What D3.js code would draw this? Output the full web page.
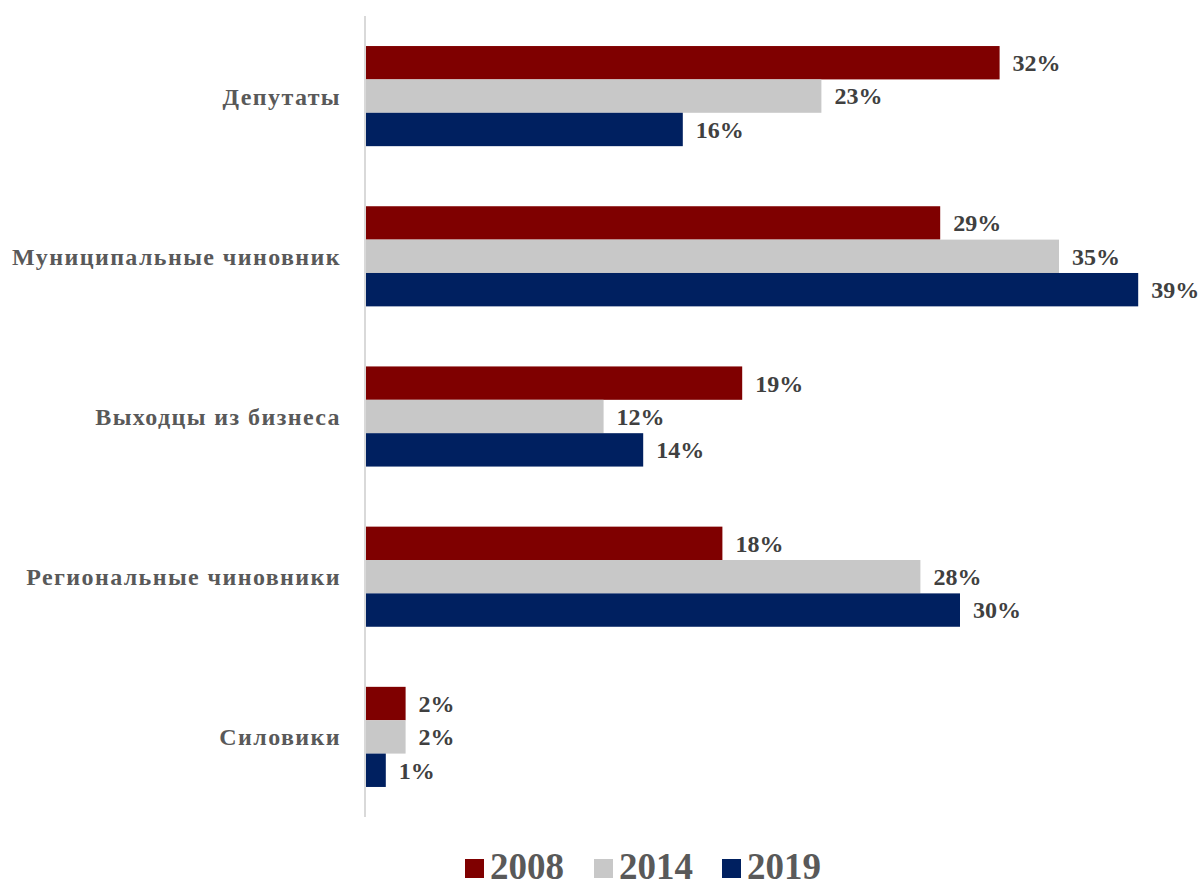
<!DOCTYPE html>
<html>
<head>
<meta charset="utf-8">
<script src="https://cdn.jsdelivr.net/npm/d3@7"></script>
<style>
  body { margin: 0; background: #fff; }
</style>
</head>
<body>
<div id="chart"></div>
<script>
var categories = ["Депутаты", "Муниципальные чиновник", "Выходцы из бизнеса", "Региональные чиновники", "Силовики"]
  , years = ["2008", "2014", "2019"]
  , values2008 = [32, 29, 19, 18, 2]
  , values2014 = [23, 35, 12, 28, 2]
  , values2019 = [16, 39, 14, 30, 1]
  , colors = ["#7f0000", "#c8c8c8", "#002060"]

var series = [values2008, values2014, values2019]
  , font = "'Liberation Serif', 'Times New Roman', serif"

var width = 1201
  , height = 887
  , svg = d3.select("#chart")
    .append("svg")
    .attr("width", width)
    .attr("height", height)

var x = d3.scaleLinear().domain([0, 1]).range([366, 385.8])

var y = d3.scaleBand()
  .domain(categories)
  .range([16, 817])
  .paddingInner(0.375)
  .paddingOuter(0.1875)

var y1 = d3.scaleBand().domain(years).range([0, y.bandwidth()])

// bars
var groups = svg.selectAll("g.cat")
    .data(categories)
  .enter().append("g")
    .attr("class", "cat")
    .attr("transform", function (d) { return "translate(0," + y(d) + ")"; })

groups.selectAll("rect")
    .data(function (d, i) {
      return years.map(function (yr, j) { return { year: yr, value: series[j][i], k: j }; })
    })
  .enter().append("rect")
    .attr("x", x(0))
    .attr("y", function (d) { return y1(d.year); })
    .attr("width", function (d) { return x(d.value) - x(0); })
    .attr("height", y1.bandwidth())
    .style("fill", function (d) { return colors[d.k]; })

groups.selectAll("text.val")
    .data(function (d, i) {
      return years.map(function (yr, j) { return { year: yr, value: series[j][i] }; })
    })
  .enter().append("text")
    .attr("class", "val")
    .attr("x", function (d) { return x(d.value) + 13; })
    .attr("y", function (d) { return y1(d.year) + y1.bandwidth() / 2; })
    .attr("dy", "0.35em")
    .style("font-family", font)
    .style("font-weight", "bold")
    .style("font-size", "24px")
    .style("fill", "#404040")
    .text(function (d) { return d.value + "%"; })

// category labels
svg.selectAll("text.catlab")
    .data(categories)
  .enter().append("text")
    .attr("class", "catlab")
    .attr("x", 341)
    .attr("y", function (d) { return y(d) + y.bandwidth() / 2; })
    .attr("dy", "0.35em")
    .attr("text-anchor", "end")
    .style("font-family", font)
    .style("font-weight", "bold")
    .style("font-size", "24px")
    .style("letter-spacing", "1.4px")
    .style("fill", "#595959")
    .text(function (d) { return d; })

// axis line
svg.append("line")
  .attr("x1", 365).attr("x2", 365)
  .attr("y1", 16).attr("y2", 817)
  .style("stroke", "#d9d9d9")
  .style("stroke-width", 2)

// legend
var legendX = [465, 594, 722]
var legend = svg.selectAll("g.leg")
    .data(years)
  .enter().append("g")
    .attr("class", "leg")
    .attr("transform", function (d, i) { return "translate(" + legendX[i] + ",0)"; })

legend.append("rect")
  .attr("x", 0).attr("y", 859)
  .attr("width", 19).attr("height", 19)
  .style("fill", function (d, i) { return colors[i]; })

legend.append("text")
  .attr("x", 25)
  .attr("y", 879)
  .style("font-family", font)
  .style("font-weight", "bold")
  .style("font-size", "37px")
  .style("fill", "#595959")
  .text(function (d) { return d; })
</script>
</body>
</html>
